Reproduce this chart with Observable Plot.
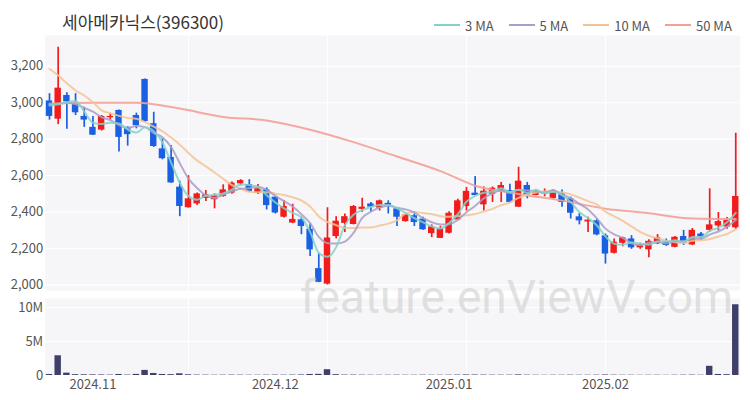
<!DOCTYPE html>
<html><head><meta charset="utf-8">
<script src="https://cdn.jsdelivr.net/npm/d3@7"></script>
<script src="https://cdn.jsdelivr.net/npm/@observablehq/plot@0.6"></script>
<style>
body{margin:0;background:#fff;}
#wrap{position:relative;width:750px;height:400px;overflow:hidden;font-family:"Noto Sans CJK KR","Noto Sans",sans-serif;}
#title{position:absolute;left:62px;top:11px;font-size:17px;color:#333;line-height:22px;white-space:nowrap;}
#legend{position:absolute;left:434px;top:17px;height:16px;font-size:13px;color:#555;display:flex;align-items:center;white-space:nowrap;}
#legend .sw{display:inline-block;width:26px;height:2px;margin-right:5px;}
#legend .it{display:flex;align-items:center;margin-right:15px;}
#price{position:absolute;left:0;top:30px;}
#vol{position:absolute;left:0;top:293px;}
#wm{position:absolute;left:0;top:0;pointer-events:none;}
</style></head>
<body><div id="wrap">
<div id="title">세아메카닉스(396300)</div>
<div id="legend"></div>
<div id="price"></div>
<div id="vol"></div>
<svg id="wm" width="750" height="400"><text x="300" y="313" font-family="Roboto, 'Noto Sans', sans-serif" font-size="46" fill="#cfcfcf" fill-opacity="0.6">feature.enViewV.com</text></svg>
</div>
<script>
// ---- data (index = trading day, 0 = 2024-10-25) ----
const opens  = [3010,2910,3040,2990,2925,2865,2850,2918,2958,2865,2930,3128,2885,2747,2700,2537,2424,2445,2475,2468,
                2486,2504,2555,2551,2504,2522,2482,2372,2340,2358,2306,2090,2005,2266,2338,2332,2415,2445,2422,2448,
                2418,2348,2380,2362,2282,2256,2284,2357,2431,2504,2440,2498,2515,2518,2427,2546,2491,2500,2475,2500,
                2473,2374,2346,2352,2270,2174,2229,2253,2204,2193,2226,2235,2207,2266,2220,2280,2300,2324,2318,2314];
const highs  = [3050,3305,3055,3050,2975,2925,2930,2940,2960,2868,2943,3130,2948,2802,2766,2570,2600,2505,2518,2500,
                2550,2565,2578,2578,2551,2533,2485,2464,2443,2372,2335,2172,2424,2375,2390,2436,2476,2453,2466,2462,
                2420,2390,2390,2372,2330,2322,2402,2471,2536,2595,2538,2538,2563,2553,2646,2563,2522,2527,2522,2522,
                2482,2392,2372,2361,2280,2253,2262,2271,2229,2248,2277,2253,2266,2300,2310,2288,2528,2398,2370,2833];
const lows   = [2905,2880,2855,2930,2865,2820,2845,2905,2730,2762,2857,2893,2755,2687,2558,2375,2422,2437,2458,2418,
                2482,2498,2544,2509,2497,2412,2390,2368,2337,2276,2156,2013,2000,2253,2288,2330,2399,2400,2406,2390,
                2321,2345,2321,2300,2260,2255,2280,2353,2406,2490,2406,2453,2453,2448,2425,2473,2490,2484,2469,2427,
                2362,2330,2288,2270,2115,2170,2210,2196,2196,2150,2222,2212,2204,2217,2217,2248,2288,2297,2306,2306];
const closes = [2925,3080,3005,2945,2905,2822,2925,2925,2810,2825,2875,2897,2760,2693,2560,2431,2473,2500,2495,2490,
                2522,2559,2573,2513,2528,2436,2395,2431,2360,2321,2193,2015,2258,2350,2375,2431,2427,2427,2462,2430,
                2372,2385,2343,2303,2319,2309,2394,2462,2514,2491,2515,2531,2546,2453,2570,2491,2509,2509,2518,2453,
                2394,2352,2356,2275,2170,2235,2259,2204,2220,2240,2259,2217,2262,2229,2300,2262,2330,2348,2355,2486];
const volumes = [150000,2900000,350000,120000,100000,90000,80000,60000,150000,60000,160000,750000,300000,150000,120000,250000,100000,60000,50000,40000,
                 50000,60000,50000,40000,40000,50000,60000,50000,60000,80000,150000,170000,850000,120000,60000,60000,50000,40000,40000,40000,
                 50000,40000,40000,50000,40000,40000,50000,60000,80000,70000,60000,50000,50000,50000,90000,50000,40000,30000,40000,40000,
                 50000,40000,40000,50000,80000,50000,40000,40000,30000,40000,40000,30000,40000,50000,60000,40000,1350000,150000,120000,10400000];
// moving-average values before enough visible closes exist
const ma3Lead  = [2985,2992];
const ma5Lead  = [2990,2995,3000,2992];
const ma10Lead = [3185,3150,3107,3067,3040,3003,2958,2943,2928];
const ma50Idx = [0,5,10,15,20,25,30,35,40,45,49,54,59,64,69,74,79];
const ma50Val = [2995,3000,3000,2968,2922,2903,2852,2784,2705,2625,2545,2500,2463,2419,2394,2365,2362];
const tickIdx    = [5,26,46,64];
const tickLabels = ["2024.11","2024.12","2025.01","2025.02"];
const priceTicks = [2000,2200,2400,2600,2800,3000,3200];
const volTicks   = [0,5000000,10000000];
const volLabels  = ["0","5M","10M"];
const gridIdx    = [16,32,48,64];
const maNames  = ["3 MA","5 MA","10 MA","50 MA"];
const maColors = ["#82d2cb","#a99ec6","#f5c393","#f4a097"];

// ---- build tables ----
const UP = "#f21c1c", DOWN = "#1a60e2";
const rows = closes.map((c,i)=>({i, open:opens[i], high:highs[i], low:lows[i], close:c, vol:volumes[i],
  col: c >= opens[i] ? UP : DOWN}));
function movAvg(k, lead){
  return closes.map((c,i)=> ({i, v: i >= k-1 ? d3.mean(closes.slice(i-k+1,i+1)) : lead[i]}));
}
const ma3 = movAvg(3, ma3Lead), ma5 = movAvg(5, ma5Lead), ma10 = movAvg(10, ma10Lead);
const ma50 = ma50Idx.map((i,j)=>({i, v: ma50Val[j]}));

// legend
const lg = document.getElementById("legend");
maNames.forEach((n,j)=>{
  const it = document.createElement("span"); it.className="it";
  it.innerHTML = `<span class="sw" style="background:${maColors[j]}"></span>${n}`;
  lg.appendChild(it);
});

const W = 750, ML = 44.66, MR = 10.4;
const font = {fontSize:"13px", fontFamily:'"Noto Sans CJK KR","Noto Sans",sans-serif', color:"#555", background:"transparent"};

const price = Plot.plot({
  width: W, height: 265, marginLeft: ML, marginRight: MR, marginTop: 5, marginBottom: 5,
  style: font,
  x: {domain:[-0.5,79.5], axis:null},
  y: {domain:[1970,3369]},
  color: {type:"identity"},
  marks: [
    Plot.frame({fill:"#f6f6f8", stroke:null}),
    Plot.ruleY(priceTicks, {stroke:"#ffffff", strokeWidth:1.2}),
    Plot.ruleX(gridIdx, {stroke:"#ffffff", strokeWidth:1}),
    Plot.axisY(priceTicks, {tickSize:0, tickPadding:2, label:null, tickFormat: d3.format(",")}),
    Plot.ruleX(rows, {x:"i", y1:"low", y2:"high", stroke:"col", strokeWidth:1.7}),
    Plot.rect(rows, {x1: d=>d.i-0.37, x2: d=>d.i+0.37, y1:"open", y2:"close", fill:"col"}),
    Plot.line(ma50, {x:"i", y:"v", stroke:maColors[3], strokeWidth:2, curve:"monotone-x", strokeOpacity:0.9}),
    Plot.line(ma10, {x:"i", y:"v", stroke:maColors[2], strokeWidth:2, curve:"monotone-x", strokeOpacity:0.85}),
    Plot.line(ma5, {x:"i", y:"v", stroke:maColors[1], strokeWidth:2, curve:"monotone-x", strokeOpacity:0.85}),
    Plot.line(ma3, {x:"i", y:"v", stroke:maColors[0], strokeWidth:2, curve:"monotone-x", strokeOpacity:0.85})
  ]
});
document.getElementById("price").appendChild(price);

const vol = Plot.plot({
  width: W, height: 107, marginLeft: ML, marginRight: MR, marginTop: 5, marginBottom: 25,
  style: font,
  x: {domain:[-0.5,79.5]},
  y: {domain:[0,11320000]},
  marks: [
    Plot.frame({fill:"#f6f6f8", stroke:null}),
    Plot.ruleY(volTicks, {stroke:"#ffffff", strokeWidth:1.2}),
    Plot.ruleX(gridIdx, {stroke:"#ffffff", strokeWidth:1}),
    Plot.axisY(volTicks, {tickSize:0, tickPadding:2, label:null, tickFormat:(d)=>volLabels[volTicks.indexOf(d)]}),
    Plot.axisX(tickIdx, {tickSize:0, tickPadding:4, label:null, tickFormat:(d)=>tickLabels[tickIdx.indexOf(d)]}),
    Plot.rect(rows, {x1: d=>d.i-0.37, x2: d=>d.i+0.37, y1: ()=>0, y2:"vol", fill:"#3e4069"})
  ]
});
document.getElementById("vol").appendChild(vol);
</script>
</body></html>
